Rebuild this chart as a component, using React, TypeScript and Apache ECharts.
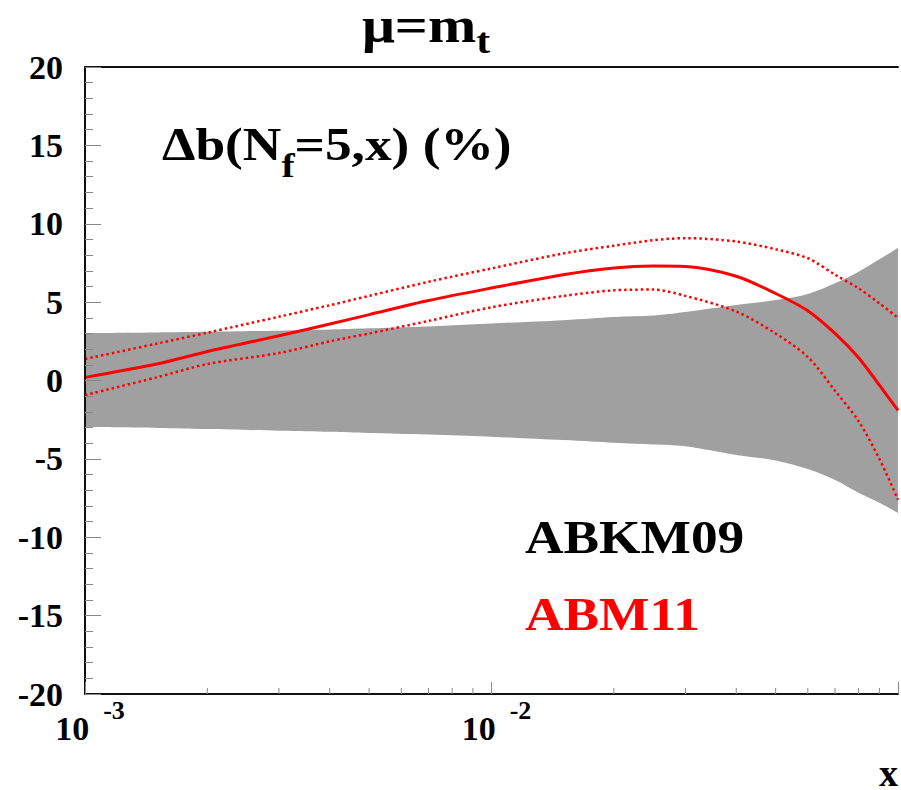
import React, { useEffect, useRef } from "react";
import * as echarts from "echarts";

// x values (log scale)
const X_VALUES = [0.001, 0.0015, 0.002, 0.003, 0.004, 0.005, 0.007, 0.01, 0.015, 0.02, 0.025, 0.03, 0.04, 0.05, 0.06, 0.07, 0.08, 0.09, 0.1];

// ABM11 relative to ABKM09 (%)
const ABM11_CENTRAL = [0.2, 1.05, 1.85, 2.85, 3.6, 4.2, 5.1, 5.9, 6.75, 7.18, 7.3, 7.27, 6.65, 5.55, 4.45, 3.0, 1.45, -0.3, -1.9];
const ABM11_UPPER = [1.37, 2.35, 3.05, 4.07, 4.8, 5.4, 6.3, 7.15, 8.1, 8.6, 8.95, 9.08, 8.87, 8.37, 7.8, 6.75, 5.88, 4.92, 4.0];
const ABM11_LOWER = [-0.93, 0.2, 1.05, 1.75, 2.5, 3.0, 3.8, 4.67, 5.39, 5.75, 5.8, 5.4, 4.4, 3.0, 1.5, -0.65, -2.6, -5.0, -7.6];

// ABKM09 uncertainty band (%)
const ABKM09_UPPER = [3.03, 3.07, 3.11, 3.18, 3.25, 3.33, 3.45, 3.64, 3.85, 4.05, 4.15, 4.37, 4.82, 5.13, 5.52, 6.2, 6.94, 7.73, 8.45];
const ABKM09_LOWER = [-2.97, -3.03, -3.1, -3.2, -3.27, -3.35, -3.45, -3.59, -3.8, -3.97, -4.08, -4.2, -4.75, -5.1, -5.65, -6.35, -7.16, -7.8, -8.45];

const X_MINOR_TICKS = [0.002, 0.003, 0.004, 0.005, 0.006, 0.007, 0.008, 0.009, 0.02, 0.03, 0.04, 0.05, 0.06, 0.07, 0.08, 0.09];
const X_LABELED_EXPONENTS = [-3, -2];

const FONT = "Liberation Serif, serif";
const RED = "#ff0000";
const BAND = "#a0a0a0";
const TICK = "#888888";
const AXIS = "#111111";

// Catmull-Rom -> cubic Bezier segments through pixel points (rendering only)
function curveThrough(pts: number[][]): string {
  let d = "";
  for (let i = 0; i < pts.length - 1; i++) {
    const p0 = pts[i - 1] || pts[i];
    const p1 = pts[i];
    const p2 = pts[i + 1];
    const p3 = pts[i + 2] || p2;
    const c1x = p1[0] + (p2[0] - p0[0]) / 6;
    const c1y = p1[1] + (p2[1] - p0[1]) / 6;
    const c2x = p2[0] - (p3[0] - p1[0]) / 6;
    const c2y = p2[1] - (p3[1] - p1[1]) / 6;
    d += ` C ${c1x} ${c1y} ${c2x} ${c2y} ${p2[0]} ${p2[1]}`;
  }
  return d;
}

export default function App() {
  const ref = useRef<HTMLDivElement>(null);

  useEffect(() => {
    if (!ref.current) return;
    const chart = echarts.init(ref.current, null, { renderer: "svg" });
    const pair = (ys: number[]) => X_VALUES.map((x, i) => [x, ys[i]]);

    const option: any = {
      animation: false,
      textStyle: { fontFamily: FONT },
      grid: { left: 85, right: 0, top: 67, bottom: 96, containLabel: false },
      xAxis: [
        {
          type: "log",
          logBase: 10,
          min: 0.001,
          max: 0.1,
          position: "bottom",
          z: 10,
          axisLine: { show: true, onZero: false, lineStyle: { color: AXIS, width: 2 } },
          axisTick: { show: true, inside: true, length: 12, lineStyle: { color: TICK, width: 1 } },
          minorTick: { show: false },
          splitLine: { show: false },
          axisLabel: {
            margin: 3,
            fontFamily: FONT,
            formatter: (v: number) => {
              const e = Math.round(Math.log10(v));
              return X_LABELED_EXPONENTS.includes(e) ? `{b|10}{s|${e}}` : "";
            },
            rich: {
              b: {
                fontFamily: FONT,
                fontWeight: "bold",
                fontSize: 34,
                lineHeight: 34,
                color: "#000",
                padding: [14, 0, 0, 10],
                verticalAlign: "top",
              },
              s: {
                fontFamily: FONT,
                fontWeight: "bold",
                fontSize: 26,
                lineHeight: 26,
                color: "#000",
                padding: [0, 0, 0, 14],
                verticalAlign: "top",
              },
            },
          },
        },
        {
          type: "log",
          logBase: 10,
          min: 0.001,
          max: 0.1,
          position: "top",
          z: 10,
          axisLine: { show: true, onZero: false, lineStyle: { color: AXIS, width: 2 } },
          axisTick: { show: false },
          axisLabel: { show: false },
          splitLine: { show: false },
        },
      ],
      yAxis: {
        type: "value",
        min: -20,
        max: 20,
        interval: 5,
        z: 10,
        axisLine: { show: true, onZero: false, lineStyle: { color: AXIS, width: 2 } },
        axisTick: { show: true, inside: true, length: 16, lineStyle: { color: TICK, width: 1 } },
        minorTick: { show: true, splitNumber: 5, length: 8, lineStyle: { color: TICK, width: 1 } },
        splitLine: { show: false },
        axisLabel: {
          margin: 22,
          fontFamily: FONT,
          fontWeight: "bold",
          fontSize: 34,
          color: "#000",
        },
      },
      series: [
        {
          type: "custom",
          name: "ABKM09",
          silent: true,
          z: 1,
          data: [[X_VALUES[0], 0]],
          encode: { x: 0, y: 1 },
          renderItem: (params: any, api: any) => {
            if (params.dataIndex !== 0) return null;
            const up = X_VALUES.map((x, i) => api.coord([x, ABKM09_UPPER[i]]));
            const lo = X_VALUES.map((x, i) => api.coord([x, ABKM09_LOWER[i]])).reverse();
            const d =
              `M ${up[0][0]} ${up[0][1]}` +
              curveThrough(up) +
              ` L ${lo[0][0]} ${lo[0][1]}` +
              curveThrough(lo) +
              " Z";
            return {
              type: "path",
              shape: { pathData: d },
              style: { fill: BAND },
            };
          },
        },
        {
          type: "custom",
          name: "minor ticks",
          silent: true,
          z: 11,
          data: X_MINOR_TICKS.map((v) => [v, -20]),
          encode: { x: 0, y: 1 },
          renderItem: (params: any, api: any) => {
            const p = api.coord([api.value(0), api.value(1)]);
            return {
              type: "line",
              shape: { x1: p[0], y1: p[1], x2: p[0], y2: p[1] - 6 },
              style: { stroke: TICK, lineWidth: 1 },
            };
          },
        },
        {
          type: "line",
          name: "ABM11",
          data: pair(ABM11_CENTRAL),
          symbol: "none",
          smooth: 0.3,
          z: 4,
          lineStyle: { color: RED, width: 3 },
        },
        {
          type: "line",
          name: "ABM11 upper",
          data: pair(ABM11_UPPER),
          symbol: "none",
          smooth: 0.3,
          z: 3,
          lineStyle: { color: RED, width: 2.5, type: [2.5, 3] },
        },
        {
          type: "line",
          name: "ABM11 lower",
          data: pair(ABM11_LOWER),
          symbol: "none",
          smooth: 0.3,
          z: 3,
          lineStyle: { color: RED, width: 2.5, type: [2.5, 3] },
        },
      ],
      graphic: [
        {
          type: "text",
          x: 362,
          y: 0,
          scaleX: 1.16,
          style: {
            text: "{m|μ=m}{s|t}",
            verticalAlign: "top",
            rich: {
              m: { fontFamily: FONT, fontWeight: "bold", fontSize: 50, lineHeight: 40, color: "#000", verticalAlign: "top" },
              s: { fontFamily: FONT, fontWeight: "bold", fontSize: 36, lineHeight: 36, color: "#000", padding: [23, 0, 0, 0], verticalAlign: "top" },
            },
          },
        },
        {
          type: "text",
          x: 162,
          y: 121.5,
          scaleX: 1.16,
          style: {
            text: "{m|Δb(N}{s|f}{m|=5,x) (%)}",
            verticalAlign: "top",
            rich: {
              m: { fontFamily: FONT, fontWeight: "bold", fontSize: 46, lineHeight: 46, color: "#000", verticalAlign: "top" },
              s: { fontFamily: FONT, fontWeight: "bold", fontSize: 34, lineHeight: 34, color: "#000", padding: [27, 0, 0, 0], verticalAlign: "top" },
            },
          },
        },
        {
          type: "text",
          x: 525,
          y: 537.5,
          scaleX: 1.16,
          style: { text: "ABKM09", fontFamily: FONT, fontWeight: "bold", fontSize: 46, fill: "#000", verticalAlign: "middle" },
        },
        {
          type: "text",
          x: 525,
          y: 614.5,
          scaleX: 1.16,
          style: { text: "ABM11", fontFamily: FONT, fontWeight: "bold", fontSize: 46, fill: RED, verticalAlign: "middle" },
        },
        {
          type: "text",
          x: 879,
          y: 772.5,
          style: { text: "x", fontFamily: FONT, fontWeight: "bold", fontSize: 38, fill: "#000", verticalAlign: "middle" },
        },
      ],
    };

    chart.setOption(option);
    return () => chart.dispose();
  }, []);

  return (
    <div
      ref={ref}
      style={{ position: "fixed", left: 0, top: 0, width: 901, height: 790, background: "#fff" }}
    />
  );
}
